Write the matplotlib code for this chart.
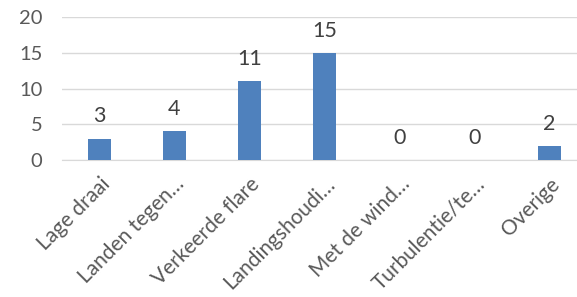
import matplotlib
matplotlib.use("Agg")
import matplotlib.pyplot as plt

# categorieen en waarden
labels = ["Lage draai", "Landen tegen…", "Verkeerde flare", "Landingshoudi…",
          "Met de wind…", "Turbulentie/te…", "Overige"]
values = [3, 4, 11, 15, 0, 0, 2]
yticks = [0, 5, 10, 15, 20]

plt.rcParams['font.family'] = ['Lato', 'DejaVu Sans']

fig = plt.figure(figsize=(5.77, 2.97), dpi=100)
ax = fig.add_axes([62 / 577, (297 - 160) / 297, 1 - 62 / 577, (160 - 17) / 297])

x = list(range(len(labels)))
ax.bar(x, values, width=0.31, color="#4F81BD", zorder=3)

# datalabels boven de staven
for xi, v in zip(x, values):
    ax.text(xi, v + 1.7, str(v), ha="center", va="bottom", fontsize=15.5,
            color="#404040", clip_on=False)

ax.set_ylim(0, 20)
ax.set_xlim(-0.5, 6.37)
ax.set_yticks(yticks)
ax.set_xticks(x)
ax.set_xticklabels(labels, rotation=45, ha="right", rotation_mode="anchor",
                   fontsize=15, color="#595959")
ax.tick_params(axis="y", labelsize=14.5, labelcolor="#595959", length=0, pad=14)
ax.tick_params(axis="x", length=0, pad=10)
ax.grid(axis="y", color="#D9D9D9", linewidth=1, zorder=0)
for s in ["top", "right", "left"]:
    ax.spines[s].set_visible(False)
ax.spines["bottom"].set_color("#D9D9D9")

fig.savefig("out.png", dpi=100)
